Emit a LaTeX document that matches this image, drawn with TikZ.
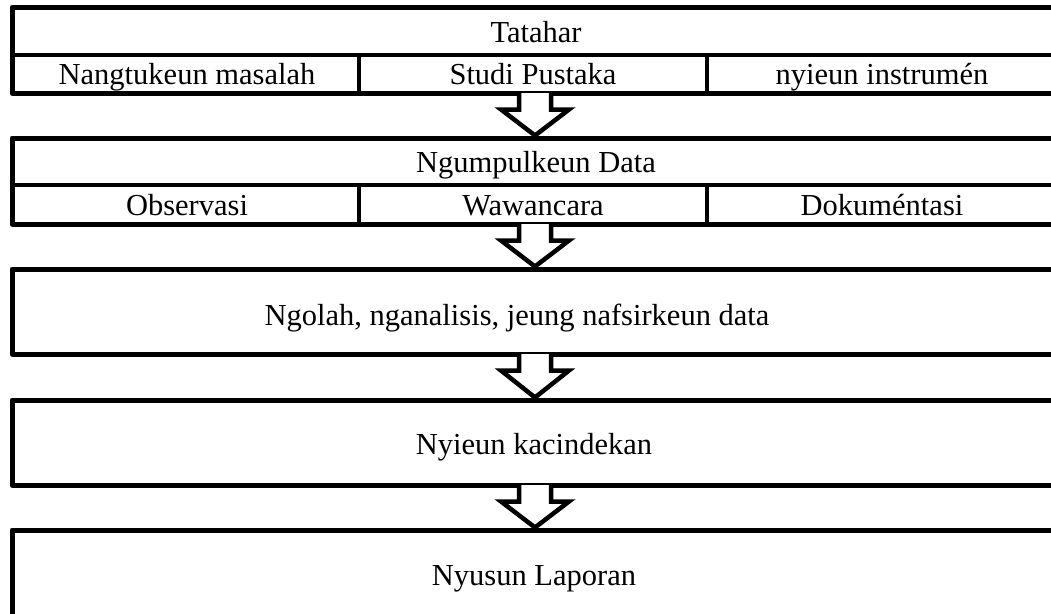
\documentclass[tikz,border=0pt]{standalone}
\usepackage{fontspec}
\setmainfont{Liberation Serif}
\usetikzlibrary{calc}
\begin{document}
\begin{tikzpicture}[x=1pt,y=-1pt,
  box/.style={draw=black, line width=5pt, line join=round, fill=white, inner sep=0pt, minimum width=1046pt},
  lbl/.style={inner sep=0pt, anchor=base, font=\fontsize{30.5}{36}\selectfont},
  sepline/.style={line width=4pt},
  blockarrow/.style={draw=black, fill=white, line width=4.5pt, line join=miter}]
\useasboundingbox (0,0) rectangle (1051,613);
\clip (0,0) rectangle (1051,613);
\fill[white] (0,0) rectangle (1051,613);
% boxes
\node[box, minimum height=85.5pt] (b1) at (535,50.25) {};
\node[box, minimum height=86pt] (b2) at (535,181) {};
\node[box, minimum height=85pt] (b3) at (535,311.5) {};
\node[box, minimum height=85pt] (b4) at (535,442.5) {};
\node[box, minimum height=86pt] (b5) at (535,573) {};
% inner lines of box 1
\draw[sepline] (b1.west |- 0,55) -- (b1.east |- 0,55);
\draw[sepline] (359,55) -- (359,0 |- b1.south);
\draw[sepline] (707,55) -- (707,0 |- b1.south);
% inner lines of box 2
\draw[sepline] (b2.west |- 0,185) -- (b2.east |- 0,185);
\draw[sepline] (359,185) -- (359,0 |- b2.south);
\draw[sepline] (707,185) -- (707,0 |- b2.south);
% texts
\node[lbl] (t1) at (536,42) {Tatahar};
\node[lbl] (c11) at (187,84) {Nangtukeun masalah};
\node[lbl] (c12) at (533,84) {Studi Pustaka};
\node[lbl] (c13) at (882,84) {nyieun instrumén};
\node[lbl] (t2) at (536,172) {Ngumpulkeun Data};
\node[lbl] (c21) at (187,215) {Observasi};
\node[lbl] (c22) at (533,215) {Wawancara};
\node[lbl] (c23) at (882,215) {Dokuméntasi};
\node[lbl] (t3) at (517,325) {Ngolah, nganalisis, jeung nafsirkeun data};
\node[lbl] (t4) at (534,454) {Nyieun kacindekan};
\node[lbl] (t5) at (534,585) {Nyusun Laporan};
% block arrows
\foreach \a/\b in {b1/b2, b2/b3, b3/b4, b4/b5}{
  \draw[blockarrow] ($(\a.south)+(-16,-2.5)$) -- ($(\a.south)+(-16,14)$)
    -- ($(\a.south)+(-34,14)$) -- (\b.north)
    -- ($(\a.south)+(34,14)$) -- ($(\a.south)+(16,14)$)
    -- ($(\a.south)+(16,-2.5)$);
}
\end{tikzpicture}
\end{document}
